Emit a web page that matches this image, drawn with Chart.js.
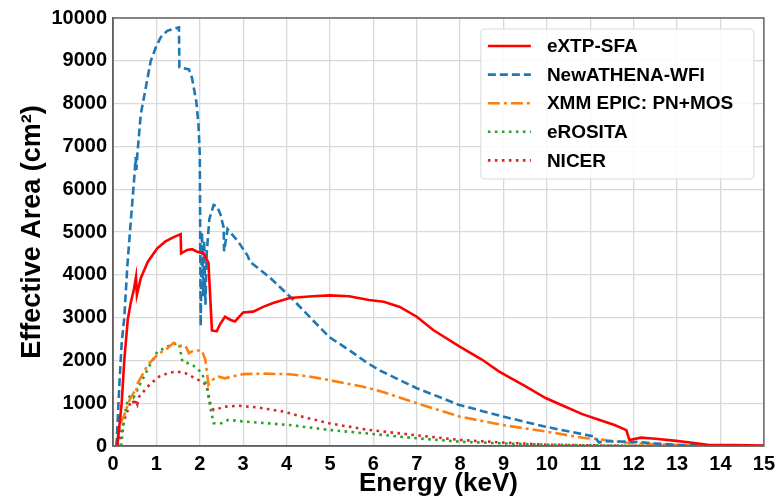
<!DOCTYPE html>
<html>
<head>
<meta charset="utf-8">
<script src="https://cdn.jsdelivr.net/npm/chart.js@4.4.0/dist/chart.umd.min.js"></script>
<style>
  html, body { margin: 0; padding: 0; background: #fff; }
  canvas { display: block; }
</style>
</head>
<body>
<canvas id="areaChart" width="781" height="499"></canvas>
<script>
// Effective area curves (energy in keV, area in cm^2)
const extpEnergy = [0.1, 0.2, 0.26, 0.34, 0.41, 0.48, 0.53, 0.55, 0.64, 0.8, 1.02, 1.21, 1.4, 1.56, 1.57, 1.71, 1.82, 1.94, 2.09, 2.2, 2.28, 2.39, 2.47, 2.58, 2.7, 2.81, 3.0, 3.23, 3.46, 3.69, 4.07, 4.6, 5.0, 5.44, 5.9, 6.24, 6.61, 7.0, 7.38, 7.99, 8.5, 8.9, 9.5, 9.97, 10.4, 10.8, 11.18, 11.56, 11.83, 11.9, 12.17, 12.5, 12.93, 13.3, 13.7, 14.3, 15];
const extpArea = [0, 1000, 2000, 2950, 3350, 3650, 3950, 3530, 3920, 4300, 4620, 4780, 4880, 4950, 4500, 4580, 4600, 4540, 4500, 4280, 2700, 2680, 2850, 3020, 2950, 2910, 3120, 3140, 3250, 3340, 3460, 3500, 3520, 3500, 3410, 3370, 3250, 3020, 2710, 2320, 2020, 1740, 1400, 1120, 930, 750, 620, 490, 370, 140, 195, 170, 125, 80, 30, 20, 10];

const athenaEnergy = [0.08, 0.15, 0.2, 0.26, 0.33, 0.41, 0.5, 0.52, 0.54, 0.56, 0.64, 0.76, 0.87, 0.99, 1.1, 1.25, 1.4, 1.52, 1.53, 1.75, 1.82, 1.92, 1.97, 2.0, 2.02, 2.05, 2.08, 2.1, 2.13, 2.16, 2.22, 2.32, 2.4, 2.48, 2.55, 2.56, 2.64, 2.89, 3.0, 3.1, 3.16, 3.6, 4.07, 4.5, 4.98, 5.5, 5.86, 6.2, 7.0, 7.98, 8.98, 9.97, 10.9, 11.1, 11.2, 11.3, 12.0, 12.5, 13.0, 14.0, 15.0];
const athenaArea = [0, 1500, 2400, 3000, 4200, 5250, 6400, 6750, 6450, 6800, 7750, 8400, 9000, 9320, 9550, 9700, 9750, 9780, 8850, 8800, 8600, 8050, 7500, 6800, 2800, 5000, 3500, 4800, 3300, 4500, 5300, 5630, 5600, 5400, 5100, 4550, 5070, 4770, 4600, 4450, 4300, 3950, 3500, 3050, 2550, 2200, 1940, 1740, 1350, 960, 690, 450, 260, 220, 80, 110, 100, 60, 25, 5, 0];

const xmmEnergy = [0.07, 0.17, 0.25, 0.3, 0.38, 0.45, 0.5, 0.53, 0.57, 0.8, 1.02, 1.25, 1.4, 1.52, 1.67, 1.75, 1.86, 2.05, 2.13, 2.2, 2.28, 2.43, 2.58, 2.73, 3.0, 3.5, 4.07, 4.5, 4.98, 5.74, 6.2, 7.0, 7.98, 8.98, 9.97, 10.9, 11.1, 11.8, 12.5, 13.5, 15];
const xmmArea = [0, 540, 690, 850, 1070, 1200, 1280, 1250, 1470, 1890, 2130, 2280, 2410, 2340, 2340, 2170, 2230, 2230, 2010, 1430, 1540, 1620, 1580, 1620, 1680, 1690, 1675, 1630, 1540, 1390, 1270, 1000, 690, 490, 340, 180, 170, 80, 40, 10, 0];

const erositaEnergy = [0.19, 0.26, 0.34, 0.4, 0.47, 0.53, 0.6, 0.83, 1.02, 1.33, 1.52, 1.6, 1.75, 1.9, 2.05, 2.16, 2.24, 2.32, 2.5, 2.66, 3.04, 4.07, 4.98, 6.2, 7.0, 8.0, 9.0, 10.0, 11, 12, 15];
const erositaArea = [0, 690, 1070, 1190, 1130, 1240, 1400, 1850, 2200, 2360, 2400, 1970, 1930, 1850, 1700, 1390, 920, 530, 530, 610, 570, 490, 375, 260, 180, 100, 60, 30, 15, 5, 0];

const nicerEnergy = [0.11, 0.26, 0.38, 0.45, 0.5, 0.53, 0.56, 0.6, 0.83, 1.06, 1.29, 1.48, 1.67, 1.9, 2.05, 2.16, 2.24, 2.32, 2.58, 2.89, 3.34, 3.95, 4.3, 4.98, 5.86, 7.0, 8.0, 9.0, 10.0, 11, 12, 15];
const nicerArea = [0, 610, 960, 1070, 950, 1070, 980, 1150, 1420, 1620, 1710, 1740, 1700, 1580, 1500, 1420, 1000, 840, 920, 940, 900, 800, 700, 530, 380, 250, 140, 80, 30, 15, 5, 0];

const seriesNames = ['eXTP-SFA', 'NewATHENA-WFI', 'XMM EPIC: PN+MOS', 'eROSITA', 'NICER'];

const FONT = 'Liberation Sans, Arial, Helvetica, sans-serif';

function toPoints(xs, ys) {
    return xs.map(function (x, i) { return { x: x, y: ys[i] }; });
}

// Matplotlib-style legend box inside the axes, top right
const legendBox = {
    id: 'legendBox',
    afterDraw(chart) {
        const ctx = chart.ctx;
        const area = chart.chartArea;
        const w = 273, h = 150;
        const x = area.right - 283, y = area.top + 11;
        ctx.save();
        // axes frame (top and right spines)
        ctx.strokeStyle = '#666';
        ctx.lineWidth = 1.5;
        ctx.strokeRect(area.left, area.top, area.right - area.left, area.bottom - area.top);

        ctx.beginPath();
        ctx.roundRect(x, y, w, h, 4);
        ctx.fillStyle = 'rgba(255,255,255,0.85)';
        ctx.fill();
        ctx.strokeStyle = '#d9d9d9';
        ctx.lineWidth = 1;
        ctx.stroke();

        ctx.font = 'bold 19px ' + FONT;
        ctx.textBaseline = 'middle';
        chart.data.datasets.forEach(function (ds, i) {
            const rowY = y + 17 + i * 28.6;
            ctx.beginPath();
            ctx.setLineDash(ds.borderDash || []);
            ctx.strokeStyle = ds.borderColor;
            ctx.lineWidth = ds.borderWidth;
            ctx.moveTo(x + 7, rowY);
            ctx.lineTo(x + 50, rowY);
            ctx.stroke();
            ctx.setLineDash([]);
            ctx.fillStyle = '#000';
            ctx.fillText(ds.label, x + 66, rowY + 1);
        });
        ctx.restore();
    }
};

const ctx = document.getElementById('areaChart');
new Chart(ctx, {
    type: 'line',
    data: {
        datasets: [
            { label: seriesNames[0], data: toPoints(extpEnergy, extpArea), borderColor: '#ff0000', borderWidth: 2.6 },
            { label: seriesNames[1], data: toPoints(athenaEnergy, athenaArea), borderColor: '#1f77b4', borderWidth: 2.6, borderDash: [8, 4] },
            { label: seriesNames[2], data: toPoints(xmmEnergy, xmmArea), borderColor: '#ff7f0e', borderWidth: 2.6, borderDash: [12, 4, 3, 4] },
            { label: seriesNames[3], data: toPoints(erositaEnergy, erositaArea), borderColor: '#2ca02c', borderWidth: 2.6, borderDash: [2.6, 4.4] },
            { label: seriesNames[4], data: toPoints(nicerEnergy, nicerArea), borderColor: '#d62728', borderWidth: 2.6, borderDash: [2.6, 4.4] }
        ]
    },
    options: {
        responsive: false,
        animation: false,
        layout: { padding: { top: 18, right: 11, left: 0, bottom: 0 } },
        elements: { point: { radius: 0 }, line: { tension: 0 } },
        plugins: { legend: { display: false }, tooltip: { enabled: false } },
        scales: {
            x: {
                type: 'linear',
                min: 0,
                max: 15,
                ticks: { stepSize: 1, color: '#000', padding: 6, font: { family: FONT, size: 20, weight: 'bold' },
                    callback: function (v) { return String(v); } },
                grid: { color: '#d9d9d9', lineWidth: 1.3, drawTicks: false },
                border: { color: '#555', width: 1.5 },
                title: { display: true, text: 'Energy (keV)', color: '#000', padding: { top: 0, bottom: 0 }, font: { family: FONT, size: 26, weight: 'bold' } },
                afterFit: function (scale) { scale.height = 53; }
            },
            y: {
                min: 0,
                max: 10000,
                ticks: { stepSize: 1000, color: '#000', padding: 6, font: { family: FONT, size: 20, weight: 'bold' },
                    callback: function (v) { return String(v); } },
                grid: { color: '#d9d9d9', lineWidth: 1.3, drawTicks: false },
                border: { color: '#555', width: 1.5 },
                title: { display: true, text: 'Effective Area (cm²)', color: '#000', padding: { top: 16, bottom: 0 }, font: { family: FONT, size: 27, weight: 'bold' } },
                afterFit: function (scale) { scale.width = 113; }
            }
        }
    },
    plugins: [legendBox]
});
</script>
</body>
</html>
